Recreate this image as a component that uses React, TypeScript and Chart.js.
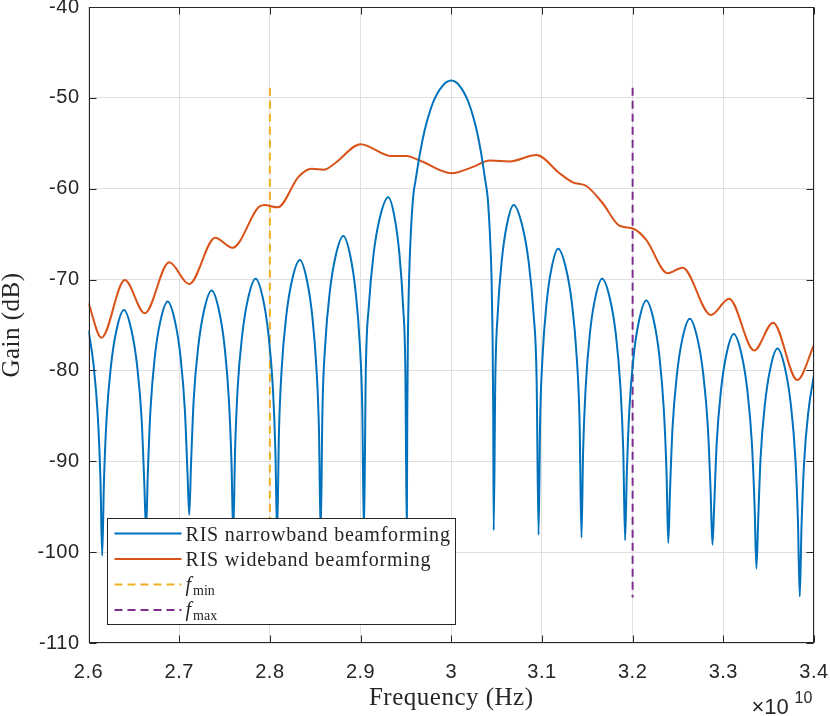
import { useEffect, useRef } from 'react'
import { Chart, registerables } from 'chart.js'

Chart.register(...registerables)

// frequency axis in units of 1e10 Hz
const xTicks = [2.6, 2.7, 2.8, 2.9, 3.0, 3.1, 3.2, 3.3, 3.4]
const yTicks = [-110, -100, -90, -80, -70, -60, -50, -40]

// RIS narrowband beamforming, lobe by lobe (each group ends on a null)
const narrowFreq = [
  2.6, 2.6055, 2.6103, 2.6132, 2.6151,
  2.617, 2.6199, 2.6247, 2.6309, 2.639, 2.6473, 2.6537, 2.6586, 2.6615, 2.6635,
  2.6654, 2.6683, 2.673, 2.6792, 2.6873, 2.6954, 2.7016, 2.7063, 2.7092, 2.7111,
  2.7131, 2.716, 2.721, 2.7274, 2.7358, 2.7439, 2.7501, 2.7548, 2.7577, 2.7596,
  2.7616, 2.7645, 2.7695, 2.7759, 2.7843, 2.7924, 2.7985, 2.8033, 2.8061, 2.808,
  2.81, 2.813, 2.818, 2.8245, 2.833, 2.8408, 2.8468, 2.8514, 2.8542, 2.856,
  2.858, 2.861, 2.866, 2.8725, 2.881, 2.8887, 2.8946, 2.8992, 2.9019, 2.9037,
  2.9058, 2.9091, 2.9144, 2.9214, 2.9305, 2.9375, 2.9428, 2.9469, 2.9494, 2.951,
  2.9515, 2.9522, 2.9535, 2.9549, 2.9579, 2.9608, 2.9657, 2.9706, 2.9755, 2.9804, 2.9853, 2.9902, 2.9951, 3.0,
  3.0047, 3.0094, 3.014, 3.0187, 3.0234, 3.0281, 3.0328, 3.0374, 3.0402, 3.0431, 3.0445, 3.0456, 3.0463, 3.0468,
  3.0486, 3.0512, 3.0556, 3.0613, 3.0688, 3.0781, 3.0853, 3.0908, 3.0941, 3.0963,
  3.098, 3.1006, 3.1049, 3.1105, 3.1178, 3.1266, 3.1333, 3.1384, 3.1415, 3.1436,
  3.1454, 3.1482, 3.1527, 3.1586, 3.1664, 3.175, 3.1816, 3.1866, 3.1897, 3.1917,
  3.1936, 3.1964, 3.201, 3.2071, 3.215, 3.2233, 3.2296, 3.2344, 3.2374, 3.2393,
  3.2412, 3.244, 3.2488, 3.2549, 3.263, 3.2715, 3.278, 3.283, 3.286, 3.288,
  3.2899, 3.2927, 3.2974, 3.3035, 3.3115, 3.32, 3.3265, 3.3315, 3.3345, 3.3365,
  3.3384, 3.3411, 3.3458, 3.3518, 3.3597, 3.3681, 3.3745, 3.3794, 3.3823, 3.3843,
  3.3862, 3.389, 3.3938, 3.4,
]
const narrowGain = [
  -75.6, -79.3, -85.1, -92.1, -100.4,
  -92.35, -85.35, -79.55, -75.55, -73.35, -75.55, -79.55, -85.35, -92.35, -97.5,
  -91.4, -84.4, -78.6, -74.6, -72.4, -74.6, -78.6, -84.4, -91.4, -95.9,
  -90.2, -83.2, -77.4, -73.4, -71.2, -73.4, -77.4, -83.2, -90.2, -98.0,
  -88.9, -81.9, -76.1, -72.1, -69.9, -72.1, -76.1, -81.9, -88.9, -98.0,
  -86.85, -79.85, -74.05, -70.05, -67.85, -70.05, -74.05, -79.85, -86.85, -98.0,
  -84.2, -77.2, -71.4, -67.4, -65.2, -67.4, -71.4, -77.2, -84.2, -98.0,
  -79.95, -72.95, -67.15, -63.15, -60.95, -63.15, -67.15, -72.95, -79.95, -98.0,
  -85, -76.5, -70, -66, -61, -59, -56, -53.6, -51.8, -50.4, -49.4, -48.7, -48.25, -48.1,
  -48.25, -48.7, -49.4, -50.4, -51.8, -53.6, -56, -59, -61, -66, -70, -76.5, -85, -97.6,
  -80.8, -73.8, -68, -64, -61.8, -64, -68, -73.8, -80.8, -98.1,
  -85.6, -78.6, -72.8, -68.8, -66.6, -68.8, -72.8, -78.6, -85.6, -98.4,
  -88.9, -81.9, -76.1, -72.1, -69.9, -72.1, -76.1, -81.9, -88.9, -98.7,
  -91.3, -84.3, -78.5, -74.5, -72.3, -74.5, -78.5, -84.3, -91.3, -99.0,
  -93.3, -86.3, -80.5, -76.5, -74.3, -76.5, -80.5, -86.3, -93.3, -99.2,
  -95, -88, -82.2, -78.2, -76, -78.2, -82.2, -88, -95, -101.8,
  -96.6, -89.6, -83.8, -79.8, -77.6, -79.8, -83.8, -89.6, -96.6, -104.9,
  -97.3, -90.3, -84.5, -80.5,
]

// RIS wideband beamforming
const wideFreq = [
  2.6, 2.6143, 2.64, 2.662, 2.689, 2.711, 2.7397, 2.7588, 2.7874, 2.794, 2.8088,
  2.8315, 2.846, 2.86, 2.8718, 2.9, 2.934, 2.9507, 2.9653, 3.0002, 3.024, 3.0424,
  3.0644, 3.0938, 3.1194, 3.134, 3.149, 3.167, 3.1854, 3.2008, 3.2148, 3.2386,
  3.2551, 3.2863, 3.3064, 3.334, 3.3549, 3.3816, 3.4,
]
const wideGain = [
  -72.6, -76.4, -70.05, -73.7, -68.1, -70.5, -65.4, -66.5, -62.05, -61.8, -62.05,
  -58.7, -57.8, -57.9, -57.2, -55.1, -56.4, -56.4, -56.9, -58.3, -57.6, -56.9,
  -57.0, -56.3, -58.3, -59.3, -59.7, -61.6, -64.07, -64.4, -65.6, -69.3,
  -68.7, -73.9, -72.1, -77.8, -74.75, -81.05, -77.2,
]

const fMin = 2.8
const fMax = 3.2
const markerGain = [-48.9, -105]

const BLUE = '#0072BD'
const ORANGE = '#D95319'
const YELLOW = '#EDB120'
const PURPLE = '#7E2F8E'
const AXIS = '#262626'

const legendRows = [
  { text: 'RIS narrowband beamforming', color: BLUE, dash: [] as number[] },
  { text: 'RIS wideband beamforming', color: ORANGE, dash: [] as number[] },
  { text: 'f', sub: 'min', color: YELLOW, dash: [8, 5] },
  { text: 'f', sub: 'max', color: PURPLE, dash: [8, 5] },
]

const frame = {
  id: 'matlabFrame',
  beforeDraw(chart: any) {
    chart.ctx.letterSpacing = '0.5px'
  },
  afterDatasetsDraw(chart: any) {
    const { ctx, chartArea, scales } = chart
    const { left, right, top, bottom } = chartArea
    const L = Math.round(left) + 0.5
    const R = Math.round(right) - 0.5
    const T = Math.round(top) + 0.5
    const B = Math.round(bottom) - 0.5
    ctx.save()
    ctx.letterSpacing = '0px'
    ctx.strokeStyle = AXIS
    ctx.lineWidth = 1
    ctx.strokeRect(L, T, R - L, B - T)
    ctx.beginPath()
    xTicks.forEach((v) => {
      const px = Math.round(scales.x.getPixelForValue(v)) + 0.5
      ctx.moveTo(px, B)
      ctx.lineTo(px, B - 7)
      ctx.moveTo(px, T)
      ctx.lineTo(px, T + 7)
    })
    yTicks.forEach((v) => {
      const py = Math.round(scales.y.getPixelForValue(v)) + 0.5
      ctx.moveTo(L, py)
      ctx.lineTo(L + 7, py)
      ctx.moveTo(R, py)
      ctx.lineTo(R - 7, py)
    })
    ctx.stroke()

    // legend box, lower left inside the axes
    const lx = L + 18
    const ly = B - 124
    ctx.fillStyle = '#ffffff'
    ctx.fillRect(lx, ly, 348, 106)
    ctx.strokeRect(lx, ly, 348, 106)
    legendRows.forEach((row, i) => {
      const cy = ly + 15 + i * 25.5
      ctx.beginPath()
      ctx.strokeStyle = row.color
      ctx.lineWidth = 2
      ctx.setLineDash(row.dash)
      ctx.moveTo(lx + 7, cy)
      ctx.lineTo(lx + 74, cy)
      ctx.stroke()
      ctx.setLineDash([])
      ctx.fillStyle = AXIS
      ctx.textBaseline = 'alphabetic'
      ctx.textAlign = 'left'
      if (row.sub) {
        ctx.letterSpacing = '0px'
        ctx.font = 'italic 20px "Liberation Serif"'
        ctx.fillText(row.text, lx + 78, cy + 6)
        const w = ctx.measureText(row.text).width
        ctx.font = '14px "Liberation Serif"'
        ctx.fillText(row.sub, lx + 80 + w, cy + 10)
      } else {
        ctx.letterSpacing = '0.8px'
        ctx.font = '20px "Liberation Serif"'
        ctx.fillText(row.text, lx + 78, cy + 7)
      }
    })

    // exponent label of the x axis
    ctx.letterSpacing = '0px'
    ctx.fillStyle = AXIS
    ctx.font = '22px "Liberation Sans"'
    ctx.textAlign = 'left'
    ctx.fillText('\u00d710', R - 62, 714)
    ctx.font = '16px "Liberation Sans"'
    ctx.fillText('10', R - 19, 703)
    ctx.restore()
  },
}

export default function App() {
  const ref = useRef<HTMLCanvasElement>(null)

  useEffect(() => {
    document.body.style.margin = '0'
    if (!ref.current) return

    const chart = new Chart(ref.current, {
      type: 'line',
      data: {
        datasets: [
          {
            label: 'RIS narrowband beamforming',
            data: narrowFreq.map((f, i) => ({ x: f, y: narrowGain[i] })),
            borderColor: BLUE,
            borderWidth: 2,
            pointRadius: 0,
            cubicInterpolationMode: 'monotone',
          },
          {
            label: 'RIS wideband beamforming',
            data: wideFreq.map((f, i) => ({ x: f, y: wideGain[i] })),
            borderColor: ORANGE,
            borderWidth: 2,
            pointRadius: 0,
            cubicInterpolationMode: 'monotone',
          },
          {
            label: 'f_min',
            data: markerGain.map((g) => ({ x: fMin, y: g })),
            borderColor: YELLOW,
            borderWidth: 2,
            borderDash: [8, 5],
            pointRadius: 0,
          },
          {
            label: 'f_max',
            data: markerGain.map((g) => ({ x: fMax, y: g })),
            borderColor: PURPLE,
            borderWidth: 2,
            borderDash: [8, 5],
            pointRadius: 0,
          },
        ],
      },
      options: {
        animation: false,
        responsive: true,
        maintainAspectRatio: false,
        layout: { padding: { top: 7, right: 16, left: 0, bottom: 0 } },
        plugins: {
          legend: { display: false },
          tooltip: { enabled: false },
        },
        scales: {
          x: {
            type: 'linear',
            min: 2.6,
            max: 3.4,
            afterBuildTicks: (s: any) => {
              s.ticks = xTicks.map((v) => ({ value: v }))
            },
            afterFit: (s: any) => {
              s.height = 73
              s.paddingLeft = 0
              s.paddingRight = 0
            },
            grid: { color: '#e0e0e0', drawTicks: false },
            border: { display: false },
            ticks: {
              color: AXIS,
              padding: 17,
              maxRotation: 0,
              font: { family: '"Liberation Sans"', size: 20 },
              callback: (v: any) => String(Number(Number(v).toFixed(1))),
            },
            title: {
              display: true,
              text: 'Frequency (Hz)',
              color: AXIS,
              font: { family: '"Liberation Serif"', size: 25, lineHeight: 1 },
              padding: { top: 0, bottom: 5 },
            },
          },
          y: {
            min: -110,
            max: -40,
            afterBuildTicks: (s: any) => {
              s.ticks = yTicks.map((v) => ({ value: v }))
            },
            afterFit: (s: any) => {
              s.width = 88.5
              s.paddingTop = 0
              s.paddingBottom = 0
            },
            grid: { color: '#e0e0e0', drawTicks: false },
            border: { display: false },
            ticks: {
              color: AXIS,
              padding: 9,
              font: { family: '"Liberation Sans"', size: 20 },
              callback: (v: any) => String(v),
            },
            title: {
              display: true,
              text: 'Gain (dB)',
              color: AXIS,
              font: { family: '"Liberation Serif"', size: 25, lineHeight: 1 },
              padding: 0,
            },
          },
        },
      },
      plugins: [frame],
    })

    return () => chart.destroy()
  }, [])

  return (
    <div style={{ position: 'relative', width: 830, height: 716 }}>
      <canvas ref={ref} />
    </div>
  )
}
